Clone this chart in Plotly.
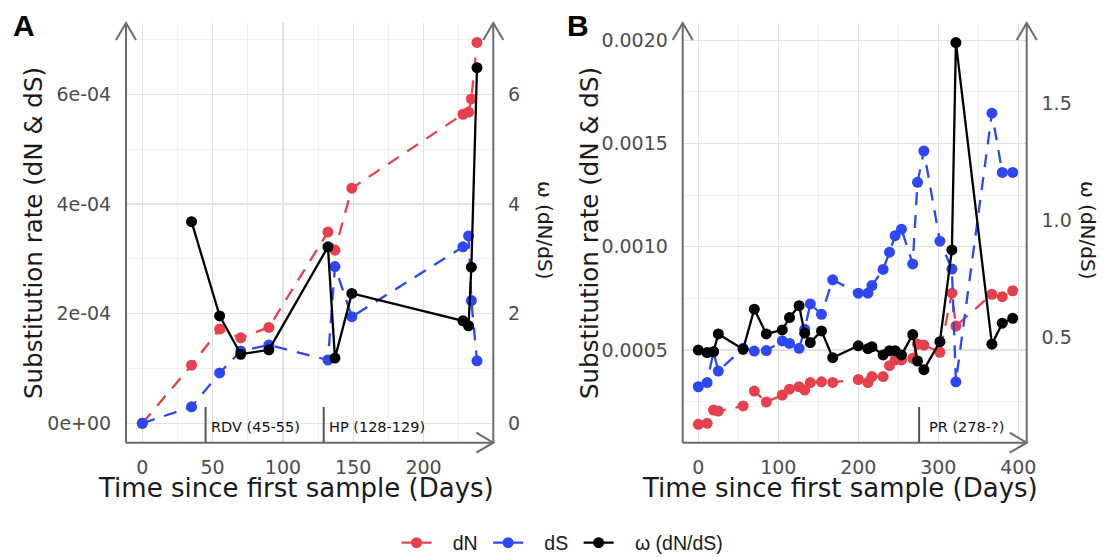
import plotly.graph_objects as go

W, H = 1103, 557

# ---------------- data: panel A ----------------
days_a = [0, 35, 55, 70, 90, 132, 137, 149, 228, 232, 234, 238]
dn_a = [0.0, 1.06e-4, 1.72e-4, 1.56e-4, 1.75e-4, 3.49e-4, 3.16e-4, 4.29e-4, 5.64e-4, 5.68e-4, 5.92e-4, 6.95e-4]
ds_a = [0.0, 0.30e-4, 0.92e-4, 1.32e-4, 1.43e-4, 1.155e-4, 2.86e-4, 1.945e-4, 3.22e-4, 3.42e-4, 2.24e-4, 1.14e-4]
omega_a = [None, 3.68, 1.96, 1.26, 1.34, 3.22, 1.19, 2.37, 1.87, 1.78, 2.85, 6.49]

# ---------------- data: panel B ----------------
days_b = [0, 11, 19, 25, 56, 70, 85, 105, 114, 126, 133, 140, 154, 168, 200, 212, 217, 231,
          239, 246, 254, 268, 274, 282, 302, 317, 322, 367, 380, 393]
dn_b = [1.40e-4, 1.45e-4, 2.09e-4, 2.04e-4, 2.29e-4, 3.01e-4, 2.48e-4, 2.82e-4, 3.10e-4, 3.22e-4,
        3.06e-4, 3.42e-4, 3.46e-4, 3.43e-4, 3.57e-4, 3.42e-4, 3.71e-4, 3.71e-4, 4.24e-4, 4.52e-4,
        4.52e-4, 4.60e-4, 5.28e-4, 5.24e-4, 4.89e-4, 7.75e-4, 6.16e-4, 7.70e-4, 7.58e-4, 7.87e-4]
ds_b = [3.22e-4, 3.42e-4, 4.92e-4, 3.98e-4, 5.08e-4, 4.95e-4, 4.97e-4, 5.44e-4, 5.32e-4, 5.08e-4,
        6.00e-4, 7.23e-4, 6.73e-4, 8.40e-4, 7.75e-4, 7.75e-4, 8.12e-4, 8.90e-4, 9.74e-4, 10.54e-4,
        10.85e-4, 9.17e-4, 13.12e-4, 14.64e-4, 10.27e-4, 8.92e-4, 3.46e-4, 16.47e-4, 13.60e-4, 13.60e-4]
omega_b = [0.444, 0.433, 0.437, 0.513, 0.447, 0.619, 0.513, 0.530, 0.583, 0.634, 0.516, 0.476,
           0.526, 0.411, 0.462, 0.450, 0.458, 0.423, 0.441, 0.441, 0.423, 0.510, 0.397, 0.360,
           0.480, 0.873, 1.761, 0.469, 0.559, 0.580]

# events
events_a = [(45, "RDV (45-55)"), (129, "HP (128-129)")]
events_b = [(276, "PR (278-?)")]

# tick labels
ya_ticks = [0, 2e-4, 4e-4, 6e-4]
ya_text = ["0e+00", "2e-04", "4e-04", "6e-04"]
ya2_ticks = [0, 2, 4, 6]
xa_ticks = [0, 50, 100, 150, 200]
xb_ticks = [0, 100, 200, 300, 400]
yb_ticks = [0.0005, 0.0010, 0.0015, 0.0020]
yb_text = ["0.0005", "0.0010", "0.0015", "0.0020"]
yb2_ticks = [0.5, 1.0, 1.5]
yb2_text = ["0.5", "1.0", "1.5"]

RED = "#E6404C"
BLUE = "#2D48F2"
BLACK = "#000000"
AXC = "#6b6b6b"
TICKF = "DejaVu Sans"
TITLEF = "DejaVu Sans"

def px(x):
    return x / W

def py(y):
    return 1 - y / H

fig = go.Figure()

DASH = "13px,10px"

def add_series(x, y, color, dash, xa, ya):
    fig.add_trace(go.Scatter(x=x, y=y, mode="lines+markers", xaxis=xa, yaxis=ya,
                             line=dict(color=color, width=2.3, dash=dash),
                             marker=dict(color=color, size=11), showlegend=False,
                             connectgaps=False, hoverinfo="skip"))

add_series(days_a, dn_a, RED, DASH, "x", "y")
add_series(days_a, ds_a, BLUE, DASH, "x", "y")
add_series(days_a, omega_a, BLACK, "solid", "x", "y2")
add_series(days_b, dn_b, RED, DASH, "x2", "y3")
add_series(days_b, ds_b, BLUE, DASH, "x2", "y3")
add_series(days_b, omega_b, BLACK, "solid", "x2", "y4")

NB = "\u00a0"
for name, c in [("dN", RED), ("dS", BLUE), ("ω (dN/dS)", BLACK)]:
    fig.add_trace(go.Scatter(x=[None], y=[None], mode="lines+markers", name=NB * 3 + name + NB,
                             line=dict(color=c, width=2.3), marker=dict(color=c, size=11),
                             xaxis="x", yaxis="y"))

# geometry (window pixels)
AL, AR = 126.0, 493.3
BL, BR = 682.7, 1026.7
TOP, BOT = 23.0, 442.7

gridc = "#e2e2e2"
minorc = "#ededed"
TF = dict(family=TICKF, size=19, color="#4d4d4d")

def xaxis_cfg(dom, rng, ticks, minor_vals):
    return dict(domain=[px(dom[0]), px(dom[1])], range=rng, tickvals=ticks,
                ticktext=[str(t) for t in ticks], showline=False, zeroline=False,
                showgrid=True, gridcolor=gridc, gridwidth=1.3, automargin=False,
                minor=dict(tickvals=minor_vals, showgrid=True, gridcolor=minorc, gridwidth=0.8),
                ticks="outside", ticklen=7, tickcolor="rgba(0,0,0,0)",
                tickfont=TF, fixedrange=True)

def yaxis_left_cfg(rng, ticks, text, minor_vals, anchor):
    return dict(domain=[py(BOT), py(TOP)], range=rng, tickvals=ticks, ticktext=text,
                anchor=anchor, showline=False, zeroline=False, automargin=False,
                showgrid=True, gridcolor=gridc, gridwidth=1.3,
                minor=dict(tickvals=minor_vals, showgrid=True, gridcolor=minorc, gridwidth=0.8),
                ticks="outside", ticklen=10, tickcolor="rgba(0,0,0,0)",
                tickfont=TF, fixedrange=True)

def yaxis_right_cfg(rng, ticks, text, anchor, over):
    return dict(domain=[py(BOT), py(TOP)], range=rng, tickvals=ticks, ticktext=text,
                anchor=anchor, overlaying=over, side="right", showline=False, zeroline=False,
                showgrid=False, ticks="outside", ticklen=10, tickcolor="rgba(0,0,0,0)",
                automargin=False, tickfont=TF, fixedrange=True)

fig.update_layout(
    width=W, height=H, margin=dict(l=0, r=0, t=0, b=0, pad=0, autoexpand=False),
    paper_bgcolor="white", plot_bgcolor="white",
    xaxis=xaxis_cfg((AL, AR), [-11.6, 249.6], xa_ticks, [25, 75, 125, 175, 225]),
    xaxis2=xaxis_cfg((BL, BR), [-19.5, 410.5], xb_ticks, [50, 150, 250, 350]),
    yaxis=yaxis_left_cfg([-3.54e-5, 7.305e-4], ya_ticks, ya_text, [1e-4, 3e-4, 5e-4, 7e-4], "x"),
    yaxis2=yaxis_right_cfg([-0.354, 7.305], ya2_ticks, [str(t) for t in ya2_ticks], "x", "y"),
    yaxis3=yaxis_left_cfg([0.509e-4, 20.84e-4], yb_ticks, yb_text,
                          [0.00025, 0.00075, 0.00125, 0.00175], "x2"),
    yaxis4=yaxis_right_cfg([0.047, 1.845], yb2_ticks, yb2_text, "x2", "y3"),
    legend=dict(orientation="h", x=px(565), xanchor="center", y=py(543), yanchor="middle",
                font=dict(family="Liberation Sans", size=19.5, color="#1a1a1a"),
                bgcolor="rgba(0,0,0,0)", itemwidth=30),
)

shapes = []
def line(x0, y0, x1, y1, color=AXC, width=2):
    shapes.append(dict(type="line", xref="paper", yref="paper", x0=px(x0), y0=py(y0),
                       x1=px(x1), y1=py(y1), line=dict(color=color, width=width)))

def chevron_up(x, y):
    shapes.append(dict(type="path", xref="paper", yref="paper",
                       path=f"M {px(x-10)},{py(y+17)} L {px(x)},{py(y)} L {px(x+10)},{py(y+17)}",
                       line=dict(color=AXC, width=2)))

def chevron_right(x, y):
    shapes.append(dict(type="path", xref="paper", yref="paper",
                       path=f"M {px(x-17)},{py(y-10)} L {px(x)},{py(y)} L {px(x-17)},{py(y+10)}",
                       line=dict(color=AXC, width=2)))

for L, R in [(AL, AR), (BL, BR)]:
    line(L, BOT, L, TOP)
    line(R, BOT, R, TOP)
    line(L, BOT, R, BOT)
    chevron_up(L, TOP)
    chevron_up(R, TOP)
    chevron_right(R, BOT)

for d, _ in events_a:
    shapes.append(dict(type="line", xref="x", yref="paper", x0=d, x1=d, y0=py(BOT), y1=py(407),
                       line=dict(color="#555555", width=2)))
for d, _ in events_b:
    shapes.append(dict(type="line", xref="x2", yref="paper", x0=d, x1=d, y0=py(BOT), y1=py(407),
                       line=dict(color="#555555", width=2)))

ann = []
EF = dict(family="DejaVu Sans", size=14.5, color="#111")
for d, t in events_a:
    ann.append(dict(x=d, xref="x", y=py(427), yref="paper", text=t, showarrow=False,
                    xanchor="left", yanchor="middle", xshift=3, font=EF))
for d, t in events_b:
    ann.append(dict(x=d, xref="x2", y=py(427), yref="paper", text=t, showarrow=False,
                    xanchor="left", yanchor="middle", xshift=8, font=EF))

def txt(x, y, t, size, angle=0, family=TITLEF, color="#1a1a1a"):
    ann.append(dict(x=px(x), y=py(y), xref="paper", yref="paper", text=t, showarrow=False,
                    xanchor="center", yanchor="middle", textangle=angle,
                    font=dict(family=family, size=size, color=color)))

txt(24, 25, "<b>A</b>", 30, family="Liberation Sans", color="#000")
txt(578, 25, "<b>B</b>", 30, family="Liberation Sans", color="#000")
txt(34, 233, "Substitution rate (dN &amp; dS)", 24.5, -90)
txt(590, 233, "Substitution rate (dN &amp; dS)", 24.5, -90)
txt(545, 230, "ω (dN/dS)", 20, 90)
txt(1088, 230, "ω (dN/dS)", 20, 90)
txt(295.5, 488, "Time since first sample (Days)", 26)
txt(839.5, 488, "Time since first sample (Days)", 26)

fig.update_layout(shapes=shapes, annotations=ann)

fig.write_html("out.html", post_script="document.body.style.margin='0px';",
               config={"displayModeBar": False, "staticPlot": True})
